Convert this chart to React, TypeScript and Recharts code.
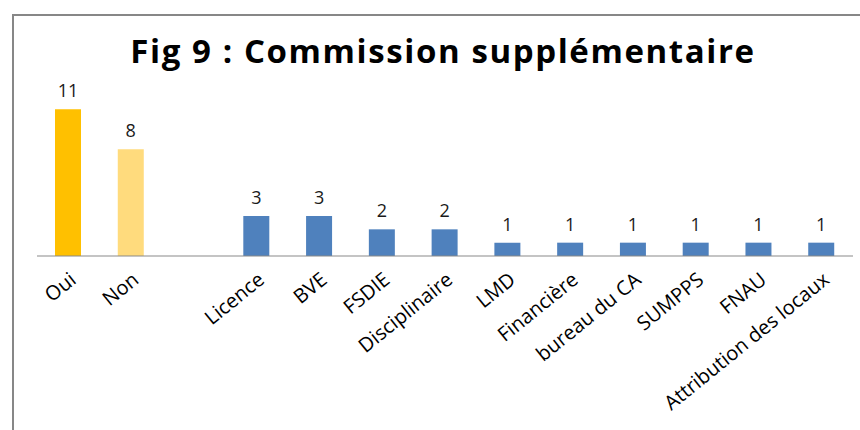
import React from "react";
import { BarChart, Bar, XAxis, YAxis, LabelList, Cell } from "recharts";

// categories (the blank one is the gap between the yes/no pair and the commissions)
const categories = [
  "Oui",
  "Non",
  "",
  "Licence",
  "BVE",
  "FSDIE",
  "Disciplinaire",
  "LMD",
  "Financière",
  "bureau du CA",
  "SUMPPS",
  "FNAU",
  "Attribution des locaux",
];
const counts: (number | null)[] = [11, 8, null, 3, 3, 2, 2, 1, 1, 1, 1, 1, 1];
const barColors = ["#FFC000", "#FFDB7D", "#4F81BD", "#4F81BD", "#4F81BD", "#4F81BD", "#4F81BD", "#4F81BD", "#4F81BD", "#4F81BD", "#4F81BD", "#4F81BD", "#4F81BD"];

const data = categories.map((name, i) => ({ name, value: counts[i] }));

const FONT = "'Open Sans', 'DejaVu Sans', sans-serif";

const AngledTick = (props: any) => {
  const { x, y, payload } = props;
  if (!payload.value) return null;
  return (
    <g transform={`translate(${x + 9},${y + 26})`}>
      <text
        x={0}
        y={0}
        textAnchor="end"
        transform="rotate(-39)"
        fontFamily={FONT}
        fontSize={20}
        fill="#000"
      >
        {payload.value}
      </text>
    </g>
  );
};

export default function App() {
  return (
    <div style={{ position: "fixed", left: 0, top: 0, width: 860, height: 430, background: "#fff" }}>
      <div
        style={{
          position: "absolute",
          left: 12,
          top: 14,
          right: 0,
          bottom: 0,
          borderTop: "2px solid #878787",
          borderLeft: "2px solid #878787",
        }}
      />
      <div
        style={{
          position: "absolute",
          left: 0,
          top: 34,
          width: 886,
          textAlign: "center",
          fontFamily: FONT,
          fontWeight: 700,
          fontSize: 33,
          letterSpacing: 1.6,
          lineHeight: "33px",
          color: "#000",
        }}
      >
        Fig 9 : Commission supplémentaire
      </div>
      <div style={{ position: "absolute", left: 0, top: 0 }}>
        <BarChart
          width={860}
          height={430}
          data={data}
          margin={{ top: 96, right: 7, left: 37, bottom: 0 }}
        >
          <XAxis
            dataKey="name"
            height={174}
            interval={0}
            tickLine={false}
            tickSize={0}
            tickMargin={0}
            stroke="#898989"
            tick={<AngledTick />}
          />
          <YAxis hide domain={[0, 12]} />
          <Bar dataKey="value" barSize={26} isAnimationActive={false}>
            {data.map((d, i) => (
              <Cell key={d.name + i} fill={barColors[i]} />
            ))}
            <LabelList
              dataKey="value"
              position="top"
              offset={12}
              fontFamily={FONT}
              fontSize={18}
              fill="#1a1a1a"
              formatter={(v: any) => (v == null ? "" : v)}
            />
          </Bar>
        </BarChart>
      </div>
    </div>
  );
}
